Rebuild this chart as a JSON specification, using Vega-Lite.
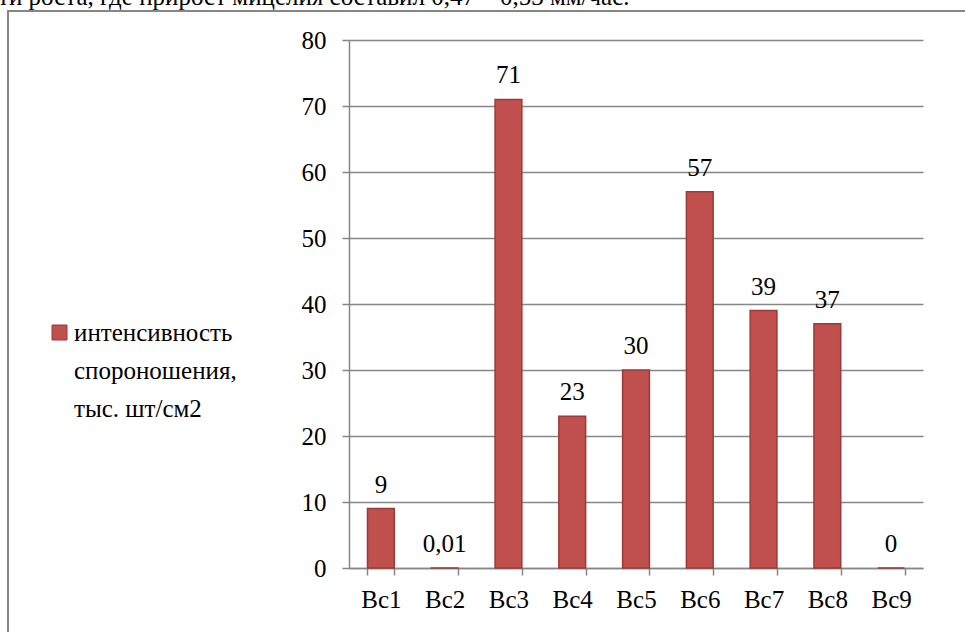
{
  "$schema": "https://vega.github.io/schema/vega-lite/v6.json",
  "width": 970,
  "height": 640,
  "autosize": "none",
  "padding": {"left": 8, "top": 11, "right": 0, "bottom": 0},
  "background": "white",
  "title": {
    "text": "ти роста, где прирост мицелия составил 0,47 – 0,53 мм/час.",
    "anchor": "start",
    "frame": "group",
    "orient": "top",
    "offset": 0,
    "baseline": "alphabetic",
    "dx": -10,
    "dy": 19,
    "fontSize": 25,
    "fontWeight": "normal",
    "color": "black"
  },
  "config": {
    "font": "Liberation Serif",
    "locale": {"number": {"decimal": ",", "thousands": " ", "grouping": [3], "currency": ["", ""]}},
    "view": {"stroke": "#868686", "strokeWidth": 2},
    "axis": {"labelFont": "Liberation Serif", "labelFontWeight": "normal"},
    "legend": {"labelFont": "Liberation Serif", "labelFontWeight": "normal"},
    "text": {"font": "Liberation Serif", "fontWeight": "normal"},
    "style": {"guide-label": {"lineHeight": 38, "font": "Liberation Serif"}}
  },
  "data": {
    "values": [
      {"sample": "Bc1", "value": 9},
      {"sample": "Bc2", "value": 0.01},
      {"sample": "Bc3", "value": 71},
      {"sample": "Bc4", "value": 23},
      {"sample": "Bc5", "value": 30},
      {"sample": "Bc6", "value": 57},
      {"sample": "Bc7", "value": 39},
      {"sample": "Bc8", "value": 37},
      {"sample": "Bc9", "value": 0}
    ]
  },
  "layer": [
    {
      "mark": {"type": "bar", "stroke": "#9B3B38", "strokeWidth": 1.5},
      "encoding": {
        "x": {
          "field": "sample",
          "type": "nominal",
          "sort": null,
          "scale": {"range": [341, 915], "paddingInner": 0.58, "paddingOuter": 0.29},
          "axis": {
            "title": null,
            "orient": "bottom",
            "offset": -83,
            "tickBand": "extent",
            "labelAngle": 0,
            "labelFontSize": 25,
            "labelColor": "black",
            "labelPadding": 12,
            "tickSize": 7,
            "tickColor": "#868686",
            "tickWidth": 1.5,
            "domainColor": "#868686",
            "domainWidth": 1.5,
            "grid": false
          }
        },
        "y": {
          "field": "value",
          "type": "quantitative",
          "scale": {"domain": [0, 80], "range": [557, 29], "nice": false},
          "axis": {
            "title": null,
            "offset": -341,
            "values": [0, 10, 20, 30, 40, 50, 60, 70, 80],
            "labelFontSize": 25,
            "labelColor": "black",
            "labelPadding": 16,
            "tickSize": 7,
            "tickColor": "#868686",
            "tickWidth": 1.5,
            "domainColor": "#868686",
            "domainWidth": 1.5,
            "grid": true,
            "gridColor": "#868686",
            "gridWidth": 1.5
          }
        },
        "color": {
          "datum": "интенсивность спороношения, тыс. шт/см2",
          "type": "nominal",
          "scale": {"range": ["#C0504D"]},
          "legend": {
            "orient": "none",
            "legendX": 39,
            "legendY": 309,
            "title": null,
            "padding": 0,
            "symbolType": "square",
            "symbolSize": 225,
            "symbolStrokeColor": "#9B3B38",
            "symbolStrokeWidth": 1,
            "labelFontSize": 25,
            "labelColor": "black",
            "labelLimit": 0,
            "labelOffset": 2,
            "labelBaseline": "middle",
            "labelExpr": "['интенсивность', 'спороношения,', 'тыс. шт/см2']"
          }
        }
      }
    },
    {
      "mark": {"type": "text", "dy": -16, "baseline": "alphabetic", "fontSize": 25, "color": "black"},
      "encoding": {
        "x": {"field": "sample", "type": "nominal", "sort": null},
        "y": {"field": "value", "type": "quantitative"},
        "text": {"field": "value", "type": "quantitative", "format": "~g"}
      }
    }
  ]
}
